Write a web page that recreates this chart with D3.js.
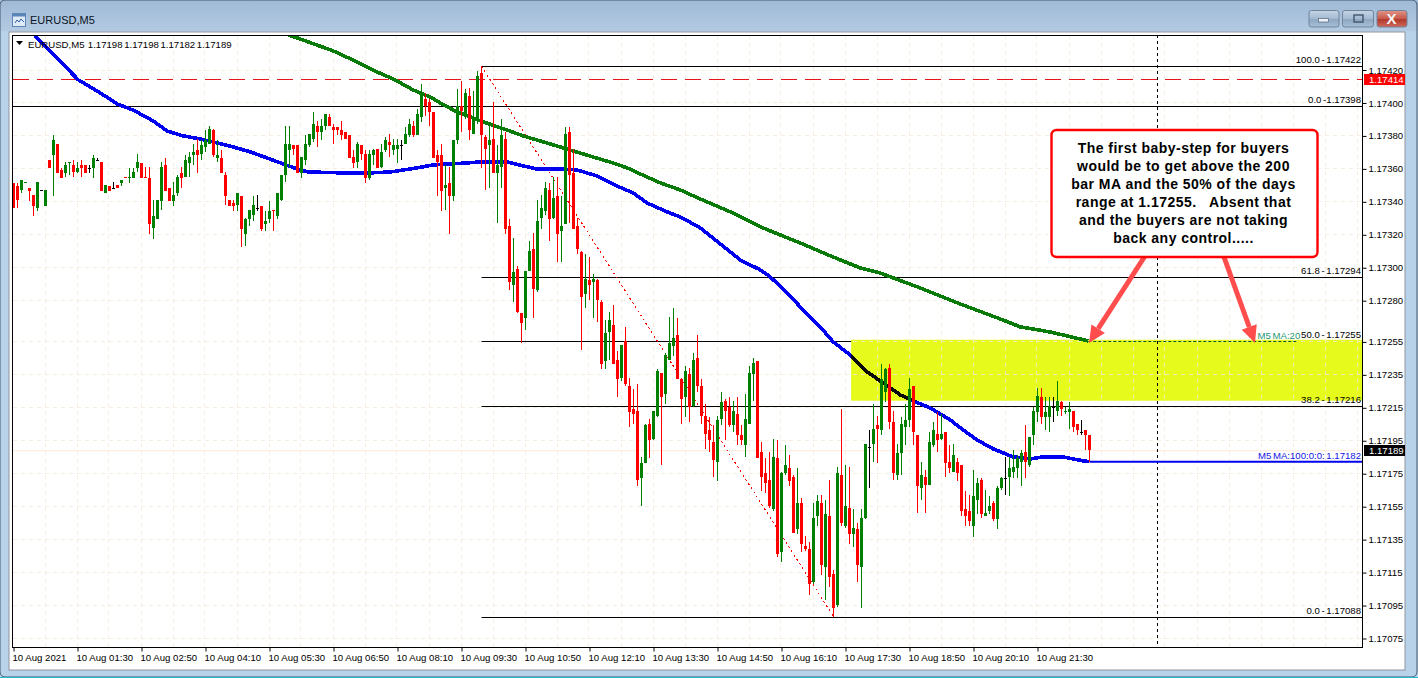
<!DOCTYPE html>
<html><head><meta charset="utf-8">
<script src="https://cdn.jsdelivr.net/npm/d3@7/dist/d3.min.js"></script>
<style>
html,body{margin:0;padding:0;background:#fff;overflow:hidden}
svg{display:block}
text{font-family:"Liberation Sans",Arial,sans-serif}
.ax text{font-size:9.6px;fill:#000}
.ax path{display:none}
.ax line{stroke:#000}
.fib{font-size:9.6px;fill:#000;word-spacing:-1px}
</style></head><body>
<svg id="c" width="1418" height="678"></svg>
<script>
// Prices are stored as points above 1.17000
const opens=[351,349,347,351,348,344,336,347,337,365,
368,375,359,357,363,362,358,362,362,360,
360,365,364,345,349,348,350,351,355,354,
354,360,363,355,354,324,329,340,362,348,
340,345,357,355,363,368,371,369,373,375,
383,366,366,356,341,339,338,343,320,329,
332,336,337,326,329,335,331,341,356,371,
374,374,357,365,374,378,386,382,386,391,
385,385,383,382,380,367,364,374,369,354,
368,372,361,371,376,371,372,374,375,380,
386,380,391,402,400,394,368,368,348,351,
343,377,398,393,404,381,389,418,379,374,
378,357,361,378,325,289,299,272,269,298,
311,286,330,334,347,330,343,322,326,382,
357,325,309,284,292,291,292,279,243,261,
265,244,233,255,228,214,213,172,181,205,
196,210,236,223,244,252,259,232,221,235,
216,245,228,210,201,194,182,208,219,215,
204,211,198,192,205,235,243,188,175,171,
153,184,127,175,178,173,141,157,131,129,
109,149,157,118,149,114,95,174,143,154,
138,141,118,148,191,193,204,201,224,239,
206,174,187,203,207,228,198,166,173,168,
192,199,196,200,182,176,182,180,153,152,
143,159,171,149,152,157,147,166,172,173,
176,178,182,188,180,198,212,221,209,209,
215,213,218,212,212,213,205,200,201,198];
const closes=[336,341,353,352,346,337,352,347,347,360,
377,357,354,362,364,358,360,360,357,360,
366,365,346,350,346,348,348,353,354,355,
358,364,354,354,326,331,341,361,346,340,
344,355,354,365,367,370,368,374,377,384,
368,368,357,343,337,337,345,323,329,335,
338,336,323,328,334,334,345,356,375,375,
372,357,367,375,381,387,382,386,393,386,
383,383,380,378,366,363,375,369,354,369,
371,360,370,377,374,374,374,374,381,387,
380,393,405,398,394,366,364,346,350,343,
377,398,395,406,383,391,416,380,372,377,
357,362,380,323,291,297,273,266,298,310,
287,328,336,348,329,342,320,325,381,356,
323,311,282,293,289,293,280,241,260,268,
241,232,253,229,212,211,171,181,204,195,
213,237,221,247,254,257,232,220,237,215,
244,228,210,199,195,183,207,218,213,204,
213,198,195,208,236,242,184,173,169,155,
185,126,175,180,170,139,157,132,129,108,
148,158,119,150,112,93,175,145,155,138,
142,119,148,193,191,202,202,232,238,206,
175,187,205,207,226,200,167,174,168,194,
201,195,199,181,178,186,175,152,149,146,
161,169,150,151,155,147,166,172,172,178,
179,184,187,182,197,213,222,209,212,216,
215,219,214,213,214,203,201,200,198,189];
const highs=[351,351,353,352,348,344,352,347,347,365,
380,375,360,364,364,365,364,365,362,362,
368,366,364,350,349,352,350,353,355,360,
360,369,363,361,361,341,341,364,366,348,
352,356,361,368,370,375,378,377,383,386,
384,377,371,358,341,341,345,343,330,335,
343,344,337,334,340,335,345,356,386,386,
374,374,367,380,381,394,389,390,393,393,
387,385,389,382,380,371,376,374,371,371,
372,372,375,379,381,378,378,377,385,390,
389,396,411,406,402,394,371,375,362,361,
377,408,413,408,409,407,419,422,380,386,
400,374,390,382,329,318,301,272,298,316,
321,341,344,352,351,355,355,343,385,385,
372,330,310,308,306,296,293,280,268,273,
277,249,253,264,233,226,229,185,205,208,
213,238,236,248,270,275,269,233,240,239,
248,259,232,217,209,204,210,224,220,221,
219,221,204,223,240,245,243,194,184,188,
196,195,176,192,186,174,178,160,137,133,
157,162,162,159,171,116,179,214,180,179,
153,145,153,193,201,217,210,241,239,241,
213,193,209,217,233,228,198,182,177,200,
206,212,211,200,192,193,184,180,164,162,
177,172,172,165,161,158,167,173,185,185,
189,186,189,204,197,215,227,227,221,221,
221,231,219,215,218,213,205,207,201,198];
const lows=[336,336,345,351,340,331,334,347,337,360,
343,357,354,355,356,355,357,355,357,357,
354,365,346,345,346,348,348,349,354,351,
354,358,354,354,320,317,329,335,346,340,
337,343,348,355,355,362,357,365,370,375,
367,364,357,338,337,334,334,312,313,325,
328,334,322,322,327,322,329,340,352,361,
368,357,354,362,373,376,373,377,383,386,
375,380,377,378,366,360,360,365,351,353,
362,360,360,370,367,368,363,365,375,379,
379,380,388,392,386,366,343,334,335,320,
340,375,382,390,377,381,387,360,347,348,
357,327,348,320,286,279,272,254,262,298,
269,285,323,332,316,329,303,303,326,327,
323,308,250,275,280,269,267,238,238,244,
241,221,231,228,203,205,167,155,181,184,
195,209,180,217,244,246,232,205,209,206,
215,224,205,190,188,173,170,204,195,203,
200,192,192,185,205,219,184,164,163,154,
152,124,121,174,167,139,138,127,128,101,
108,143,113,98,106,88,94,143,142,132,
130,109,93,147,166,182,181,198,218,202,
171,171,174,192,203,192,151,159,151,168,
191,188,195,173,175,176,170,149,143,143,
136,150,148,149,150,146,141,165,162,161,
172,172,167,172,179,192,206,205,201,200,
206,210,210,211,202,200,198,198,189,182];

const ma100Bars=[5.4,16.2,21.7,25.9,29.9,34.9,38.4,42.4,46.7,50.9,54.9,59.2,63.4,67.4,71.7,73.7,83.4,88.4,94.2,100.9,104.9,113.4,116.7,123.4,127.4,130.9,137.4,140.9,145.9,150.9,154.9,158.4,163.4,166.7,171.7,181.7,186.7,189.2,193.4,197.4,201.7,204.9,209.2,210.4,213.4,217.4,221.7,224.9,229.2,234.2,237.4,240.9,244.9,249.9,254.2,257.4,262.4,267.4,269];
const ma100Vals=[440.4,413.7,405.8,399.1,395.4,388.8,382.7,379.7,377.9,375.4,373,370,366.3,362.7,359,357.8,357.2,357.2,357.8,360.3,362.1,363.3,363.9,363.9,361.5,359.6,359.6,359,355.4,349.3,345.1,339,333.6,330.5,323.9,304.4,298.4,294.1,284.4,274.1,263.8,254.7,246.8,243.8,236.5,229.8,222.5,218.9,214.6,207.3,201.3,195.2,189.8,184.9,183.7,184.9,184.9,182.5,182];
const ma200Bars=[68.7,71.7,79.9,85.9,90.9,94.9,99.9,104.2,106.7,110.9,114.9,117.4,123.4,127.4,131.7,136.7,139.9,144.9,149.9,153.4,156.7,161.7,166.7,171.7,179.2,186.7,196.7,204.2,211.7,216.7,226.7,236.7,246.7,251.7,259.2,268.7];
const ma200Vals=[441,438.5,431.3,424.6,418.5,414.3,407.6,403.3,399.7,394.2,390.6,388.2,383.3,379.7,376.6,373,370.6,366.9,363.3,360.3,356.6,351.2,346.9,341.4,333.6,324.5,314.7,306.9,299.6,296.5,287.4,277.7,268.6,263.8,260.7,255.3];

const priceTicks=[1.1742,1.174,1.1738,1.1736,1.1734,1.1732,1.173,1.1728,1.17255,1.17235,1.17215,1.17195,1.17175,1.17155,1.17135,1.17115,1.17095,1.17075];
const timeBars=[0,16,32,48,64,80,96,112,128,144,160,176,192,208,224,240,256];
const timeLabels=["10 Aug 2021","10 Aug 01:30","10 Aug 02:50","10 Aug 04:10","10 Aug 05:30","10 Aug 06:50","10 Aug 08:10","10 Aug 09:30","10 Aug 10:50","10 Aug 12:10","10 Aug 13:30","10 Aug 14:50","10 Aug 16:10","10 Aug 17:30","10 Aug 18:50","10 Aug 20:10","10 Aug 21:30"];
const calloutLines=["The first baby-step for buyers","would be to get above the 200","bar MA and the 50% of the days","range at 1.17255.   Absent that","and the buyers are not taking","back any control....."];
const fibLevels=[1.17422,1.17294,1.17216,1.17088];
const fibTexts=["100.0 - 1.17422","0.0 -1.17398","61.8 - 1.17294","50.0 - 1.17255","38.2 - 1.17216","0.0 - 1.17088"];
const fibTextPrices=[1.17422,1.17398,1.17294,1.17255,1.17216,1.17088];
const bid=1.17414, last=1.17189;
const startBar=117, endBar=205; // fib / trend line anchors
const zoneBar=209.4, zoneTop=1.17256, zoneBottom=1.17219;

const L=13,R=1362,T=35,B=647.5;
const price=p=>1.17+p/1e5;
const x=d3.scaleLinear().domain([0,269]).range([13.5,1089.5]);
const y=d3.scaleLinear().domain([1.1742,1.17075]).range([69.5,638]);
const svg=d3.select("#c");
const defs=svg.append("defs");
const grad=(id,stops)=>{const g=defs.append("linearGradient").attr("id",id).attr("x1",0).attr("y1",0).attr("x2",0).attr("y2",1);
  stops.forEach(s=>g.append("stop").attr("offset",s[0]).attr("stop-color",s[1]));};
grad("title",[[0,"#9fb9d6"],[.5,"#a9c1dc"],[1,"#b3cae2"]]);
grad("btn",[[0,"#c5d5e6"],[.5,"#a4bad2"],[.55,"#8ea7c2"],[1,"#a9bfd6"]]);
grad("close",[[0,"#e0958a"],[.5,"#c9584a"],[.55,"#b23a2c"],[1,"#cf6a5c"]]);
defs.append("clipPath").attr("id","plot").append("rect").attr("x",L).attr("y",T).attr("width",R-L).attr("height",B-T);

// window chrome
svg.append("rect").attr("width",1418).attr("height",678).attr("fill","#b8d2ea");
svg.append("rect").attr("width",1418).attr("height",31).attr("fill","url(#title)");
svg.append("rect").attr("x",0).attr("y",0).attr("width",1417).attr("height",677).attr("rx",5).attr("fill","none").attr("stroke","#47586a");
svg.append("rect").attr("x",9).attr("y",32).attr("width",1396).attr("height",638).attr("fill","#fff").attr("stroke","#8d949c");
svg.append("line").attr("x1",0).attr("x2",1418).attr("y1",677.5).attr("y2",677.5).attr("stroke","#25b8d0");
const ic=svg.append("g");
ic.append("rect").attr("x",12.5).attr("y",13.5).attr("width",13).attr("height",13).attr("fill","#dfeaf6").attr("stroke","#5d86b8");
ic.append("rect").attr("x",12.5).attr("y",13.5).attr("width",13).attr("height",3).attr("fill","#5d86b8");
ic.append("path").attr("d","M15 23l2-3 2 2 2-3 3 3").attr("fill","none").attr("stroke","#2a5da8");
svg.append("text").attr("x",30).attr("y",24).attr("font-size",11).attr("fill","#0a1420").text("EURUSD,M5");
const btn=(x0,w,f)=>svg.append("rect").attr("x",x0).attr("y",10.5).attr("width",w).attr("height",16.5).attr("rx",2.5).attr("fill",f).attr("stroke","#6f839a");
btn(1309,30,"url(#btn)");btn(1342.5,31,"url(#btn)");btn(1377,30,"url(#close)");
svg.append("rect").attr("x",1318.5).attr("y",18.5).attr("width",10).attr("height",3.5).attr("fill","#eef3f8").attr("stroke","#54657a").attr("stroke-width",.7);
svg.append("rect").attr("x",1354).attr("y",15).attr("width",9).attr("height",7).attr("fill","none").attr("stroke","#44546a").attr("stroke-width",1.4);
svg.append("text").attr("x",1391.5).attr("y",24).attr("text-anchor","middle").attr("font-size",15).attr("font-weight","bold").attr("fill","#f4f4f4").text("X");

// plot
const plot=svg.append("g").attr("clip-path","url(#plot)");
plot.append("rect").attr("x",L).attr("y",T).attr("width",R-L).attr("height",B-T).attr("fill","#fff");

// yellow zone, under the grid
const zoneX=x(zoneBar), zoneY=y(zoneTop), zoneH=y(zoneBottom)-y(zoneTop);
plot.append("rect").attr("x",zoneX).attr("y",zoneY).attr("width",R-zoneX).attr("height",zoneH).attr("fill","#e6fb1c");

// grid
const gridDash="4,4";
const gridBars=d3.range(8,345,8);
plot.append("g").selectAll("line").data(gridBars).join("line")
 .attr("x1",d=>Math.round(x(d))+.5-1).attr("x2",d=>Math.round(x(d))+.5-1).attr("y1",T).attr("y2",B)
 .attr("stroke","#f3ead9").attr("stroke-opacity",.8).attr("stroke-dasharray",gridDash);
plot.append("g").selectAll("line").data(priceTicks).join("line")
 .attr("x1",L).attr("x2",R).attr("y1",d=>Math.round(y(d))+.5).attr("y2",d=>Math.round(y(d))+.5)
 .attr("stroke","#f3ead9").attr("stroke-opacity",.8).attr("stroke-dasharray",gridDash);

// last-price line, bid line, vertical cursor line
plot.append("line").attr("x1",L).attr("x2",R).attr("y1",y(last)+.5).attr("y2",y(last)+.5).attr("stroke","#fdeadb");
plot.append("line").attr("x1",L).attr("x2",R).attr("y1",Math.round(y(bid))+.5).attr("y2",Math.round(y(bid))+.5).attr("stroke","#e8141c").attr("stroke-dasharray","16,8");
plot.append("line").attr("x1",x(286)).attr("x2",x(286)).attr("y1",T).attr("y2",B).attr("stroke","#000").attr("stroke-dasharray","3,3");

// fibonacci lines
const hline=(p,a,b)=>plot.append("line").attr("x1",a).attr("x2",b).attr("y1",Math.round(y(p))+.5).attr("y2",Math.round(y(p))+.5).attr("stroke","#000").attr("stroke-width",1);
fibLevels.forEach(p=>hline(p,x(startBar),R));
hline(1.17398,L,R);
hline(1.17255,x(startBar),zoneX);
plot.append("line").attr("x1",x(startBar)).attr("y1",y(1.17422)).attr("x2",x(endBar)).attr("y2",y(1.17088))
 .attr("stroke","#ff0000").attr("stroke-dasharray","2,3").attr("shape-rendering","crispEdges");

// moving averages
const lineGen=d3.line().x(d=>x(d[0])).y(d=>y(price(d[1])));
const ma100=ma100Bars.map((b,i)=>[b,ma100Vals[i]]), ma200=ma200Bars.map((b,i)=>[b,ma200Vals[i]]);
defs.append("clipPath").attr("id","zone").append("rect").attr("x",zoneX).attr("y",zoneY).attr("width",R-zoneX).attr("height",zoneH);
plot.append("path").attr("d",lineGen(ma200)).attr("fill","none").attr("stroke","#087a08").attr("stroke-width",3.6).attr("shape-rendering","crispEdges");
plot.append("path").attr("d",lineGen(ma100)).attr("fill","none").attr("stroke","#0000f0").attr("stroke-width",3.6).attr("shape-rendering","crispEdges");
plot.append("path").attr("d",lineGen(ma100)).attr("fill","none").attr("stroke","#0a0a0a").attr("stroke-width",3.6).attr("clip-path","url(#zone)").attr("shape-rendering","crispEdges");
// flat projections of the two averages to the right of the last bar
plot.append("line").attr("x1",x(269)).attr("x2",R).attr("y1",y(price(182))).attr("y2",y(price(182))).attr("stroke","#0000f0").attr("stroke-width",2);
plot.append("line").attr("x1",x(268.7)).attr("x2",x(321)).attr("y1",Math.round(y(1.17255))+.5).attr("y2",Math.round(y(1.17255))+.5).attr("stroke","#0a5a20").attr("stroke-dasharray","3,2");

// candles
const idx=d3.range(opens.length);
const col=i=>closes[i]>opens[i]?"#008000":closes[i]<opens[i]?"#ff0000":"#000";
const cg=plot.append("g").attr("shape-rendering","crispEdges");
cg.selectAll(".w").data(idx).join("rect").attr("class","w")
 .attr("x",i=>Math.floor(x(i))).attr("width",1)
 .attr("y",i=>Math.round(y(price(highs[i])))).attr("height",i=>Math.max(1,Math.round(y(price(lows[i])))-Math.round(y(price(highs[i])))))
 .attr("fill",col);
cg.selectAll(".b").data(idx).join("rect").attr("class","b")
 .attr("x",i=>Math.floor(x(i))-1).attr("width",3)
 .attr("y",i=>Math.round(y(price(Math.max(opens[i],closes[i])))))
 .attr("height",i=>Math.max(1,Math.round(y(price(Math.min(opens[i],closes[i]))))-Math.round(y(price(Math.max(opens[i],closes[i]))))))
 .attr("fill",col);

// frame
svg.append("rect").attr("x",12.5).attr("y",35.5).attr("width",1350).attr("height",612).attr("fill","none").attr("stroke","#000");

// axes
const yAxis=d3.axisRight(y).tickValues(priceTicks).tickSize(4).tickPadding(2).tickFormat(d=>d.toFixed(5));
svg.append("g").attr("class","ax").attr("transform","translate(1362.5,0.5)").call(yAxis);
const xAxis=d3.axisBottom(x).tickValues(timeBars).tickSize(4).tickPadding(3).tickFormat((d,i)=>timeLabels[i]);
const xg=svg.append("g").attr("class","ax").attr("transform","translate(0,647.5)").call(xAxis);
xg.selectAll("text").attr("text-anchor","start").attr("dx",-1.5);

// fib labels
svg.append("g").selectAll("text").data(fibTexts).join("text").attr("class","fib")
 .attr("x",R-1).attr("y",(d,i)=>y(fibTextPrices[i])-3).attr("text-anchor","end").text(d=>d);
svg.append("text").attr("class","fib").attr("x",x(311)).attr("y",y(1.17255)-2.5).attr("style","fill:#1f9a78").text("M5 MA:20");
svg.append("text").attr("class","fib").attr("x",R-1).attr("y",y(1.17182)-3).attr("text-anchor","end").attr("style","fill:#1414e6").text("M5 MA:100:0:0: 1.17182");

// header
svg.append("path").attr("d","M16 41h7l-3.5 4z").attr("fill","#000");
svg.append("text").attr("x",28).attr("y",47.5).attr("font-size",9.6).attr("word-spacing","-1px").attr("fill","#000").style("white-space","pre").text("EURUSD,M5  1.17198 1.17198 1.17182 1.17189");

// price tags
const tag=(p,f)=>{const cy=Math.round(y(p))+.5;
 svg.append("rect").attr("x",1364).attr("y",cy-5.5).attr("width",41).attr("height",11).attr("fill",f);
 svg.append("text").attr("x",1369).attr("y",cy+3.6).attr("font-size",9.6).attr("fill","#fff").text(p.toFixed(5));};
tag(bid,"#ff0000");tag(last,"#000");

// arrows
const ARROW="#ff4d4d";
[[[1145,256],[1089,343]],[[1224,257],[1255,343]]].forEach(([a,b])=>{
 const ang=Math.atan2(b[1]-a[1],b[0]-a[0]),h=17,w=8;
 const bx=b[0]-h*Math.cos(ang),by=b[1]-h*Math.sin(ang),nx=-Math.sin(ang),ny=Math.cos(ang);
 svg.append("line").attr("x1",a[0]).attr("y1",a[1]).attr("x2",bx).attr("y2",by).attr("stroke",ARROW).attr("stroke-width",5);
 svg.append("path").attr("d",d3.line()([b,[bx+nx*w,by+ny*w],[bx-nx*w,by-ny*w]])+"Z").attr("fill",ARROW);
});

// callout
svg.append("rect").attr("x",1051.5).attr("y",130).attr("width",266).attr("height",127).attr("rx",5).attr("fill","#fff").attr("stroke","#ff0000").attr("stroke-width",2.4);
svg.append("g").selectAll("text").data(calloutLines).join("text")
 .attr("x",1183.5).attr("y",(d,i)=>152.7+18*i).attr("text-anchor","middle").attr("font-size",14).attr("letter-spacing","0.47px").attr("font-weight","bold").attr("fill","#000").style("white-space","pre").text(d=>d);
</script>
</body></html>
